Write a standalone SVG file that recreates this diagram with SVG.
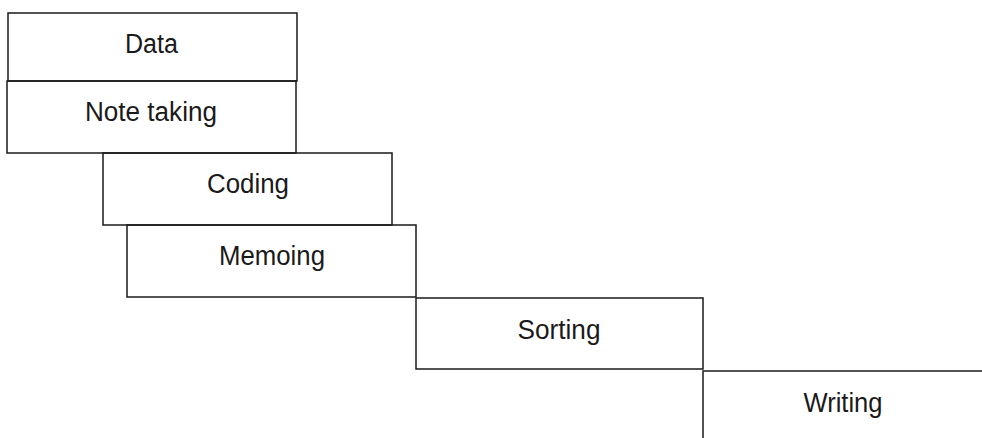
<svg xmlns="http://www.w3.org/2000/svg" width="982" height="438" viewBox="0 0 982 438">
<style>
.b{fill:none;stroke:#1a1a1a;stroke-width:1.5}
.t{font-family:"Liberation Sans",Arial,sans-serif;font-size:27px;fill:#1a1a1a;text-anchor:middle}
</style>
<rect width="982" height="438" fill="#ffffff"/>
<g id="data"><rect class="b" x="8" y="13" width="289" height="68"/><text class="t" x="151.5" y="53" textLength="53" lengthAdjust="spacingAndGlyphs">Data</text></g>
<g id="note-taking"><rect class="b" x="7" y="81" width="289" height="72"/><text class="t" x="151" y="121" textLength="132" lengthAdjust="spacingAndGlyphs">Note taking</text></g>
<g id="coding"><rect class="b" x="103" y="153" width="289" height="72"/><text class="t" x="248" y="193" textLength="82" lengthAdjust="spacingAndGlyphs">Coding</text></g>
<g id="memoing"><rect class="b" x="127" y="225" width="289" height="72"/><text class="t" x="272" y="265" textLength="106" lengthAdjust="spacingAndGlyphs">Memoing</text></g>
<g id="sorting"><rect class="b" x="416" y="298" width="287" height="71"/><text class="t" x="559" y="339" textLength="83" lengthAdjust="spacingAndGlyphs">Sorting</text></g>
<g id="writing"><path class="b" d="M703,438 V371 H982"/><text class="t" x="843" y="411.5" textLength="79" lengthAdjust="spacingAndGlyphs">Writing</text></g>
<g id="connectors"></g>
</svg>
